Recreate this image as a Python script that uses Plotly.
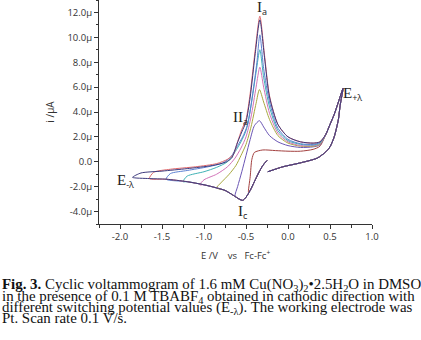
import plotly.graph_objects as go

# ---------------- data (E in V vs Fc/Fc+, i in µA) ----------------
# common initial cathodic sweep, starting at -0.25 V
CATH_E = [-0.25, -0.30, -0.35, -0.40, -0.45, -0.50, -0.54, -0.58, -0.65, -0.75, -0.85, -1.00, -1.20, -1.45, -1.65, -1.85]
CATH_I = [0.10, -0.30, -0.90, -1.60, -2.30, -2.85, -3.10, -3.00, -2.70, -2.30, -2.10, -1.85, -1.60, -1.40, -1.35, -1.25]

# switching potentials
E_SWITCH = [-1.85, -1.65, -1.45, -1.25, -1.05, -0.85, -0.63, -0.47]
COLORS = ["#3e3b7e", "#e0696b", "#5b7fd2", "#3fb2b5", "#d273b8", "#a8a83e", "#6a55b5", "#a3403f"]

# anodic return branches (from switching potential up to +0.38 V)
RET_E = [
    [-1.85, -1.75, -1.50, -1.20, -0.90, -0.75, -0.67, -0.61, -0.55, -0.50, -0.45, -0.39, -0.335, -0.28, -0.22, -0.12, 0.00, 0.15, 0.30, 0.38],
    [-1.65, -1.60, -1.40, -1.10, -0.85, -0.72, -0.65, -0.60, -0.55, -0.50, -0.45, -0.39, -0.335, -0.28, -0.22, -0.12, 0.00, 0.15, 0.30, 0.38],
    [-1.45, -1.40, -1.20, -0.95, -0.78, -0.68, -0.60, -0.54, -0.48, -0.42, -0.37, -0.335, -0.29, -0.22, -0.12, 0.00, 0.15, 0.30, 0.38],
    [-1.25, -1.20, -1.00, -0.85, -0.72, -0.63, -0.56, -0.50, -0.44, -0.38, -0.335, -0.29, -0.22, -0.12, 0.00, 0.15, 0.30, 0.38],
    [-1.05, -1.00, -0.85, -0.72, -0.63, -0.56, -0.50, -0.44, -0.38, -0.335, -0.29, -0.22, -0.12, 0.00, 0.15, 0.30, 0.38],
    [-0.85, -0.80, -0.70, -0.62, -0.56, -0.50, -0.44, -0.38, -0.34, -0.29, -0.22, -0.12, 0.00, 0.15, 0.30, 0.38],
    [-0.63, -0.60, -0.55, -0.50, -0.45, -0.40, -0.34, -0.29, -0.22, -0.12, 0.00, 0.15, 0.30, 0.38],
    [-0.47, -0.45, -0.43, -0.40, -0.30, -0.15, 0.00, 0.15, 0.30, 0.38],
]
RET_I = [
    [-1.25, -0.90, -0.75, -0.55, -0.30, -0.05, 0.30, 1.40, 2.40, 3.20, 5.20, 8.70, 11.40, 8.40, 5.20, 3.00, 2.00, 1.60, 1.50, 1.60],
    [-1.35, -0.85, -0.60, -0.40, -0.15, 0.20, 0.60, 1.60, 2.60, 3.40, 5.50, 9.00, 11.70, 8.60, 5.30, 3.00, 2.00, 1.60, 1.50, 1.60],
    [-1.40, -0.95, -0.70, -0.40, -0.10, 0.40, 1.30, 2.00, 3.00, 5.50, 8.00, 10.20, 7.50, 4.80, 2.70, 1.80, 1.45, 1.40, 1.55],
    [-1.60, -1.15, -0.80, -0.45, 0.00, 0.80, 1.60, 2.50, 4.50, 7.20, 9.00, 6.80, 4.40, 2.50, 1.70, 1.40, 1.35, 1.50],
    [-1.85, -1.45, -1.00, -0.40, 0.30, 1.10, 2.00, 3.60, 6.00, 7.60, 6.00, 3.90, 2.30, 1.60, 1.30, 1.30, 1.45],
    [-2.10, -1.70, -1.00, -0.30, 0.50, 1.40, 2.80, 4.70, 5.80, 4.80, 3.40, 2.10, 1.50, 1.25, 1.25, 1.40],
    [-2.75, -2.00, -0.80, 0.50, 1.80, 2.90, 3.30, 2.80, 2.10, 1.60, 1.30, 1.15, 1.20, 1.35],
    [-2.45, -1.20, 0.20, 0.75, 0.95, 0.90, 0.85, 0.85, 1.00, 1.25],
]

# common positive end: up to E+λ and back towards -0.24 V
END_E = [0.45, 0.50, 0.55, 0.60, 0.655, 0.62, 0.60, 0.55, 0.50, 0.45, 0.35, 0.14, -0.06, -0.24]
END_I = [2.20, 3.00, 3.80, 4.80, 5.90, 4.50, 3.40, 2.00, 1.20, 0.80, 0.30, -0.10, -0.40, -0.80]

Y_TICKS = [-4, -2, 0, 2, 4, 6, 8, 10, 12]
Y_TICKTEXT = ["-4.0µ", "-2.0µ", "0.0", "2.0µ", "4.0µ", "6.0µ", "8.0µ", "10.0µ", "12.0µ"]
X_TICKS = [-2.0, -1.5, -1.0, -0.5, 0.0, 0.5, 1.0]
X_TICKTEXT = ["-2.0", "-1.5", "-1.0", "-0.5", "0.0", "0.5", "1.0"]

CAPTION = [
    "<b>Fig. 3.</b> Cyclic voltammogram of 1.6 mM Cu(NO<sub>3</sub>)<sub>2</sub>•2.5H<sub>2</sub>O in DMSO",
    "in the presence of 0.1 M TBABF<sub>4</sub> obtained in cathodic direction with",
    "different switching potential values (E<sub>-λ</sub>). The working electrode was",
    "Pt. Scan rate 0.1 V/s.",
]

# ---------------- figure ----------------
W, H = 421, 340
ML, MR, MT, MB = 99, 49, 0, 116
PW, PH = W - ML - MR, H - MT - MB

def paper_x(px):
    return (px - ML) / PW

def paper_y(py):
    return (H - MB - py) / PH

fig = go.Figure()
order = list(range(len(E_SWITCH)))[::-1]
for k in order:
    es = E_SWITCH[k]
    xs = [e for e in CATH_E if e > es + 0.01]
    ys = [i for e, i in zip(CATH_E, CATH_I) if e > es + 0.01]
    xs = xs + RET_E[k] + END_E
    ys = ys + RET_I[k] + END_I
    fig.add_trace(go.Scatter(
        x=xs, y=ys, mode="lines",
        line=dict(color=COLORS[k], width=1, shape="spline", smoothing=0.7),
        showlegend=False, hoverinfo="skip",
    ))

serif = "Liberation Serif"
sans = "Open Sans"

def label(x, y, main, sub, size=15, subsize=9):
    fig.add_annotation(
        x=x, y=y, xref="x", yref="y", showarrow=False,
        text=f"{main}<sub><span style='font-family:{sans};font-size:{subsize}px'>{sub}</span></sub>",
        font=dict(family=serif, size=size, color="#222"),
    )

label(-0.31, 12.35, "I", "a")
label(-0.56, 3.5, "II", "a")
label(-0.53, -4.1, "I", "c")
label(0.77, 5.4, "E", "+λ")
label(-1.93, -1.55, "E", "-λ")

CAP_Y = [284.5, 296.5, 308, 318]
for n, line in enumerate(CAPTION):
    fig.add_annotation(
        x=paper_x(0), y=paper_y(CAP_Y[n]), xref="paper", yref="paper",
        xanchor="left", yanchor="middle", showarrow=False,
        text=line, font=dict(family=serif, size=14.9, color="#111"),
    )

# x-axis title placed as a paper annotation centred under the plot
fig.add_annotation(
    x=0.5, y=paper_y(255), xref="paper", yref="paper",
    xanchor="center", yanchor="middle", showarrow=False,
    text="E /V &nbsp;&nbsp; vs &nbsp; Fc-Fc<sup>+</sup>",
    font=dict(family=sans, size=9.5, color="#333"),
)

axis_common = dict(
    showline=True, linecolor="#333", linewidth=1, ticks="outside", ticklen=4,
    tickcolor="#333", tickfont=dict(family=sans, size=9.5, color="#333"),
    showgrid=False, zeroline=False,
)

fig.update_xaxes(
    range=[-2.25, 1.0], tickvals=X_TICKS, ticktext=X_TICKTEXT,
    minor=dict(dtick=0.25, ticklen=3, tickcolor="#333", ticks="outside"),
    **axis_common,
)
fig.update_yaxes(
    range=[-5, 13], tickvals=Y_TICKS, ticktext=Y_TICKTEXT,
    minor=dict(dtick=1, ticklen=2, tickcolor="#333", ticks="outside"),
    title=dict(text="i /µA", font=dict(family=sans, size=10, color="#333"), standoff=10),
    **axis_common,
)

fig.update_layout(
    width=W, height=H, margin=dict(l=ML, r=MR, t=MT, b=MB),
    plot_bgcolor="white", paper_bgcolor="white",
)

fig.write_html(
    "out.html",
    config={"displayModeBar": False},
    post_script="document.body.style.margin='0';document.body.style.padding='0';",
)
